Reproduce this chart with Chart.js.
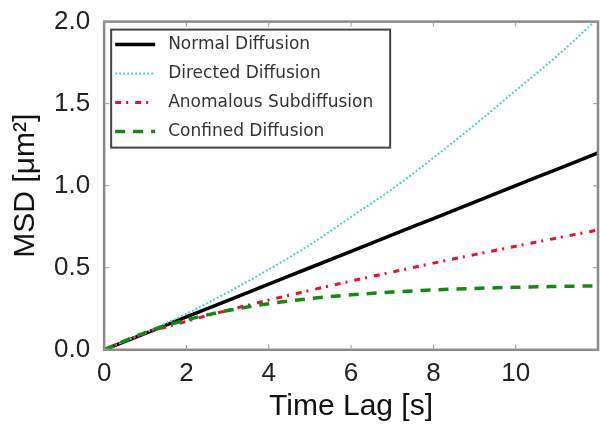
<!DOCTYPE html>
<html>
<head>
<meta charset="utf-8">
<script src="https://cdn.jsdelivr.net/npm/chart.js@4.4.0/dist/chart.umd.min.js"></script>
<style>
  html, body { margin: 0; padding: 0; background: #fff; }
</style>
</head>
<body>
<canvas id="msdChart" width="600" height="425"></canvas>
<script>
// time lag in seconds
const timeLag = [0, 1, 2, 3, 4, 5, 6, 7, 8, 9, 10, 11, 12];

// MSD values (um^2)
const normalMsd   = [0, 0.10, 0.20, 0.30, 0.40, 0.50, 0.60, 0.70, 0.80, 0.90, 1.00, 1.10, 1.20];
const directedMsd = [0, 0.105, 0.22, 0.35, 0.49, 0.64, 0.81, 0.98, 1.17, 1.37, 1.58, 1.79, 2.02];
const anomalousMsd = [0, 0.10, 0.174, 0.241, 0.303, 0.362, 0.419, 0.474, 0.528, 0.58, 0.631, 0.681, 0.73];
const confinedMsd = [0, 0.105, 0.182, 0.239, 0.281, 0.312, 0.335, 0.352, 0.365, 0.374, 0.381, 0.386, 0.39];

const seriesLabels = ['Normal Diffusion', 'Directed Diffusion', 'Anomalous Subdiffusion', 'Confined Diffusion'];
const xTicks = [0, 2, 4, 6, 8, 10];
const yTicks = [0, 0.5, 1.0, 1.5, 2.0];

const toPoints = (ys) => ys.map((y, i) => ({ x: timeLag[i], y: y }));

const ctx = document.getElementById('msdChart');

// frame, inward tick marks and the boxed legend inside the plot
const framePlugin = {
  id: 'frame',
  afterDraw(chart) {
    const c = chart.ctx;
    const a = chart.chartArea;
    const xs = chart.scales.x, ys = chart.scales.y;
    c.save();
    c.strokeStyle = '#8a8a8a';
    c.lineWidth = 2.5;
    c.strokeRect(a.left, a.top, a.right - a.left, a.bottom - a.top);
    c.lineWidth = 1;
    c.strokeStyle = '#999';
    xTicks.forEach(v => {
      const px = xs.getPixelForValue(v);
      c.beginPath();
      c.moveTo(px, a.bottom); c.lineTo(px, a.bottom - 5);
      c.moveTo(px, a.top); c.lineTo(px, a.top + 5);
      c.stroke();
    });
    yTicks.forEach(v => {
      const py = ys.getPixelForValue(v);
      c.beginPath();
      c.moveTo(a.left, py); c.lineTo(a.left + 5, py);
      c.moveTo(a.right, py); c.lineTo(a.right - 5, py);
      c.stroke();
    });

    // legend
    const bx = a.left + 7, by = a.top + 8, bw = 279, bh = 118;
    c.fillStyle = '#fff';
    c.fillRect(bx, by, bw, bh);
    c.strokeStyle = '#444';
    c.lineWidth = 2;
    c.strokeRect(bx, by, bw, bh);
    c.font = '17px "DejaVu Sans"';
    c.textBaseline = 'middle';
    chart.data.datasets.forEach((ds, i) => {
      const ly = by + 15 + i * 29;
      c.save();
      c.strokeStyle = ds.borderColor;
      c.lineWidth = ds.borderWidth;
      c.setLineDash(ds.borderDash || []);
      c.beginPath();
      c.moveTo(bx + 4, ly);
      c.lineTo(bx + 44, ly);
      c.stroke();
      c.restore();
      c.fillStyle = '#333';
      c.fillText(ds.label, bx + 57, ly);
    });
    c.restore();
  }
};

new Chart(ctx, {
  type: 'line',
  data: {
    datasets: [{
      label: seriesLabels[0],
      data: toPoints(normalMsd),
      borderColor: '#000',
      borderWidth: 3.5,
      order: 4
    }, {
      label: seriesLabels[1],
      data: toPoints(directedMsd),
      borderColor: '#52cccc',
      borderWidth: 2,
      borderDash: [2, 2],
      order: 3
    }, {
      label: seriesLabels[2],
      data: toPoints(anomalousMsd),
      borderColor: '#e8102a',
      borderWidth: 3,
      borderDash: [6, 5, 2, 7],
      order: 2
    }, {
      label: seriesLabels[3],
      data: toPoints(confinedMsd),
      borderColor: '#138a13',
      borderWidth: 3.5,
      borderDash: [10, 8],
      order: 1
    }]
  },
  options: {
    responsive: false,
    animation: false,
    events: [],
    elements: {
      point: { radius: 0 },
      line: { cubicInterpolationMode: 'monotone', fill: false }
    },
    layout: { padding: { top: 10, right: 2, left: 8, bottom: 0 } },
    plugins: {
      legend: { display: false },
      tooltip: { enabled: false }
    },
    scales: {
      x: {
        type: 'linear',
        min: 0,
        max: 12,
        grid: { display: false },
        border: { display: false },
        afterBuildTicks: (axis) => { axis.ticks = xTicks.map(v => ({ value: v })); },
        ticks: {
          color: '#222',
          padding: 0,
          maxRotation: 0,
          font: { family: '"Liberation Sans", Arial', size: 26 }
        },
        title: {
          display: true,
          text: 'Time Lag [s]',
          color: '#111',
          padding: { top: 0, bottom: 0 },
          font: { family: '"Liberation Sans", Arial', size: 30 }
        }
      },
      y: {
        min: 0,
        max: 2.0,
        grid: { display: false },
        border: { display: false },
        afterBuildTicks: (axis) => { axis.ticks = yTicks.map(v => ({ value: v })); },
        ticks: {
          color: '#222',
          padding: 6,
          callback: (v) => v.toFixed(1),
          font: { family: '"Liberation Sans", Arial', size: 26 }
        },
        title: {
          display: true,
          text: 'MSD [μm²]',
          color: '#111',
          padding: { top: 0, bottom: 4 },
          font: { family: '"Liberation Sans", Arial', size: 30 }
        }
      }
    }
  },
  plugins: [framePlugin]
});
</script>
</body>
</html>
